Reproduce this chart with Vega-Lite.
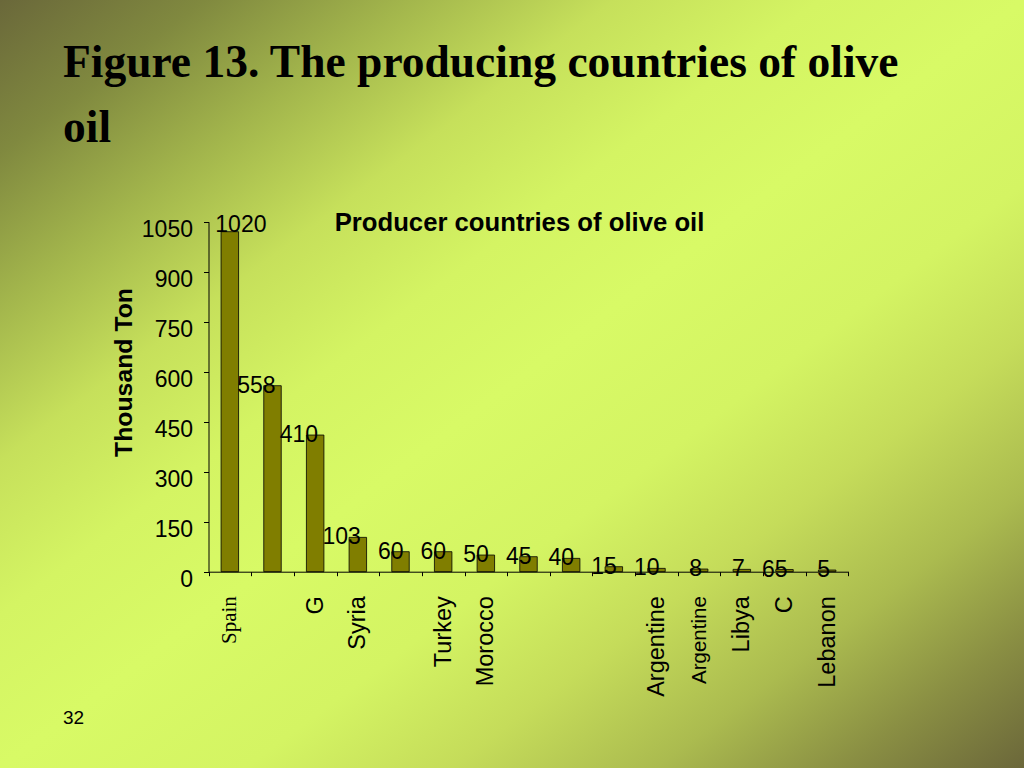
{
  "$schema": "https://vega.github.io/schema/vega-lite/v6.json",
  "width": 1024,
  "height": 768,
  "autosize": "none",
  "padding": 0,
  "background": "#d6f765",
  "title": {
    "text": ["Figure 13. The producing countries of olive", "oil"],
    "subtitle": "32",
    "orient": "top",
    "anchor": "start",
    "frame": "group",
    "offset": 0,
    "dx": 63,
    "dy": 728,
    "font": "Liberation Serif",
    "fontSize": 45.5,
    "fontWeight": "bold",
    "color": "#000000",
    "lineHeight": 65,
    "subtitleFont": "Liberation Sans",
    "subtitleFontSize": 19,
    "subtitleColor": "#000000",
    "subtitlePadding": 558
  },
  "data": {
    "values": [
      {"country": "Spain", "production": 1020, "label": "1020"},
      {"country": "Italy", "production": 558, "label": "558"},
      {"country": "Greece", "production": 410, "label": "410"},
      {"country": "Syria", "production": 103, "label": "103"},
      {"country": "Tunisia", "production": 60, "label": "60"},
      {"country": "Turkey", "production": 60, "label": "60"},
      {"country": "Morocco", "production": 50, "label": "50"},
      {"country": "Portugal", "production": 45, "label": "45"},
      {"country": "Algeria", "production": 40, "label": "40"},
      {"country": "Jordan", "production": 15, "label": "15"},
      {"country": "Argentine", "production": 10, "label": "10"},
      {"country": "Argentine 2", "production": 8, "label": "8"},
      {"country": "Libya", "production": 7, "label": "7"},
      {"country": "Cyprus", "production": 6.5, "label": "65"},
      {"country": "Lebanon", "production": 5, "label": "5"}
    ]
  },
  "layer": [
    {
      "data": {"values": [{}]},
      "mark": {
        "type": "rect",
        "stroke": null,
        "fill": {
          "gradient": "linear",
          "x1": 0, "y1": 0, "x2": 1, "y2": 1,
          "stops": [
            {"offset": 0, "color": "#6a683a"},
            {"offset": 0.1, "color": "#80893f"},
            {"offset": 0.2, "color": "#a3b64c"},
            {"offset": 0.3, "color": "#c6e05b"},
            {"offset": 0.4, "color": "#d4f463"},
            {"offset": 0.5, "color": "#d8fa66"},
            {"offset": 0.62, "color": "#d4f463"},
            {"offset": 0.72, "color": "#c5dc5a"},
            {"offset": 0.82, "color": "#abbb4f"},
            {"offset": 0.91, "color": "#8a8f43"},
            {"offset": 1, "color": "#6b673a"}
          ]
        }
      },
      "encoding": {}
    },
    {
      "encoding": {
        "x": {
          "field": "country",
          "type": "nominal",
          "sort": null,
          "scale": {"type": "band", "range": [208.5, 848.5], "paddingInner": 0, "paddingOuter": 0},
          "axis": {
            "orient": "bottom",
            "offset": -196.3,
            "zindex": 2,
            "title": "Producer countries of olive oil",
            "titleX": 519,
            "titleY": -341.7,
            "titleAlign": "center",
            "titleBaseline": "alphabetic",
            "titleFont": "Liberation Sans",
            "titleFontSize": 25.7,
            "titleFontWeight": "bold",
            "titleColor": "#000000",
            "labelAngle": -90,
            "labelPadding": 20,
            "labelOverlap": false,
            "labelFont": {"condition": {"test": "datum.value === 'Spain'", "value": "Liberation Serif"}, "value": "Liberation Sans"},
            "labelFontSize": {"condition": [{"test": "datum.value === 'Spain'", "value": 21}, {"test": "datum.value === 'Argentine 2'", "value": 20.5}], "value": 23.5},
            "labelColor": "#000000",
            "labelExpr": "['Spain','','G','Syria','','Turkey','Morocco','','','','Argentine','Argentine','Libya','C','Lebanon'][indexof(['Spain','Italy','Greece','Syria','Tunisia','Turkey','Morocco','Portugal','Algeria','Jordan','Argentine','Argentine 2','Libya','Cyprus','Lebanon'], datum.value)]",
            "tickBand": "extent",
            "tickSize": 4,
            "tickColor": "#000000",
            "domainColor": "#000000",
            "grid": false
          }
        },
        "y": {
          "field": "production",
          "type": "quantitative",
          "scale": {"domain": [0, 1050], "range": [571.7, 221.7], "nice": false, "zero": true},
          "axis": {
            "orient": "left",
            "offset": -208.5,
            "zindex": 2,
            "values": [0, 150, 300, 450, 600, 750, 900, 1050],
            "format": "d",
            "title": "Thousand Ton",
            "titleX": -84.5,
            "titleY": 372,
            "titleAngle": -90,
            "titleAlign": "center",
            "titleBaseline": "middle",
            "titleFont": "Liberation Sans",
            "titleFontSize": 24.8,
            "titleFontWeight": "bold",
            "titleColor": "#000000",
            "labelFont": "Liberation Sans",
            "labelFontSize": 23,
            "labelColor": "#000000",
            "labelPadding": 11,
            "labelOffset": 8,
            "labelOverlap": false,
            "tickSize": 5,
            "tickColor": "#000000",
            "domainColor": "#000000",
            "grid": false
          }
        }
      },
      "layer": [
        {
          "mark": {"type": "bar", "fill": "#807e00", "stroke": "#000000", "strokeWidth": 0.8, "width": {"band": 0.41}}
        },
        {
          "transform": [{"filter": "datum.production < 1000"}],
          "mark": {"type": "text", "align": "right", "baseline": "middle", "dx": 3, "font": "Liberation Sans", "fontSize": 23, "color": "#000000"},
          "encoding": {"text": {"field": "label", "type": "nominal"}}
        },
        {
          "transform": [{"filter": "datum.production >= 1000"}],
          "mark": {"type": "text", "align": "left", "baseline": "alphabetic", "dx": -14.5, "font": "Liberation Sans", "fontSize": 23, "color": "#000000"},
          "encoding": {"text": {"field": "label", "type": "nominal"}}
        }
      ]
    }
  ],
  "config": {
    "view": {"stroke": null},
    "axis": {"grid": false}
  }
}
